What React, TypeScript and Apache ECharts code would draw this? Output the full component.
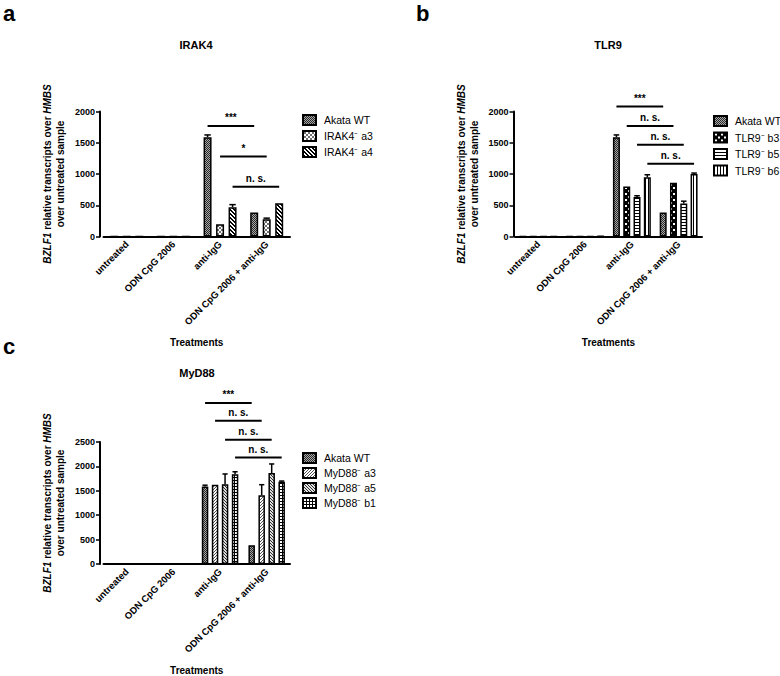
import React, { useEffect, useRef } from "react";
import * as echarts from "echarts";

const FONT = "'Liberation Sans', Arial, Helvetica, sans-serif";

const categories = ["untreated", "ODN CpG 2006", "anti-IgG", "ODN CpG 2006 + anti-IgG"];

// Panel a: IRAK4
const irak4Names = ["Akata WT", "IRAK4⁻ a3", "IRAK4⁻ a4"];
const irak4WT = [1, 1, 1590, 384];
const irak4WTErr = [0, 0, 35, 0];
const irak4A3 = [1, 1, 198, 278];
const irak4A3Err = [0, 0, 0, 16];
const irak4A4 = [1, 1, 470, 534];
const irak4A4Err = [0, 0, 40, 0];
const irak4Sig = [
  [2, 0, 3, 0, 1770],
  [2, 1, 3, 1, 1280],
  [2, 2, 3, 2, 795],
];
const irak4SigLabels = ["***", "*", "n. s."];

// Panel b: TLR9
const tlr9Names = ["Akata WT", "TLR9⁻ b3", "TLR9⁻ b5", "TLR9⁻ b6"];
const tlr9WT = [1, 2, 1590, 384];
const tlr9WTErr = [0, 0, 35, 0];
const tlr9B3 = [1, 2, 800, 862];
const tlr9B3Err = [0, 0, 0, 0];
const tlr9B5 = [1, 4, 632, 530];
const tlr9B5Err = [0, 0, 20, 35];
const tlr9B6 = [1, 5, 948, 1000];
const tlr9B6Err = [0, 0, 40, 15];
const tlr9Sig = [
  [2, 0, 3, 0, 2080],
  [2, 1, 3, 1, 1770],
  [2, 2, 3, 2, 1467],
  [2, 3, 3, 3, 1163],
];
const tlr9SigLabels = ["***", "n. s.", "n. s.", "n. s."];

// Panel c: MyD88
const myd88Names = ["Akata WT", "MyD88⁻ a3", "MyD88⁻ a5", "MyD88⁻ b1"];
const myd88WT = [1, 1, 1590, 385];
const myd88WTErr = [0, 0, 25, 0];
const myd88A3 = [1, 1, 1622, 1410];
const myd88A3Err = [0, 0, 0, 215];
const myd88A5 = [1, 1, 1635, 1865];
const myd88A5Err = [0, 0, 210, 185];
const myd88B1 = [1, 1, 1840, 1685];
const myd88B1Err = [0, 0, 50, 15];
const myd88Sig = [
  [2, 0, 3, 0, 3300],
  [2, 1, 3, 1, 2933],
  [2, 2, 3, 2, 2547],
  [2, 3, 3, 3, 2180],
];
const myd88SigLabels = ["***", "n. s.", "n. s.", "n. s."];

const yTicksA = [0, 2000, 500];
const yTicksC = [0, 2500, 500];

function makePattern(size: number, draw: (ctx: CanvasRenderingContext2D) => void) {
  const c = document.createElement("canvas");
  c.width = size;
  c.height = size;
  const ctx = c.getContext("2d")!;
  draw(ctx);
  return { image: c.toDataURL(), repeat: "repeat", imageWidth: size, imageHeight: size } as any;
}

function pix(ctx: CanvasRenderingContext2D, size: number, bg: string, fg: string, test: (x: number, y: number) => boolean) {
  ctx.fillStyle = bg;
  ctx.fillRect(0, 0, size, size);
  ctx.fillStyle = fg;
  for (let x = 0; x < size; x++) for (let y = 0; y < size; y++) if (test(x, y)) ctx.fillRect(x, y, 1, 1);
}

export default function App() {
  const ref = useRef<HTMLDivElement>(null);
  useEffect(() => {
    document.body.style.margin = "0";
    const chart = echarts.init(ref.current!, null, { renderer: "svg" });

    const P = {
      wt: makePattern(2, (c) => pix(c, 2, "#a8a8a8", "#282828", (x, y) => (x + y) % 2 === 0)),
      irA3: makePattern(4, (c) => pix(c, 4, "#ffffff", "#707070", (x, y) => x === y || x + y === 3)),
      irA4: makePattern(4, (c) => pix(c, 4, "#ffffff", "#000000", (x, y) => ((x - y + 8) % 4) < 2)),
      tB3: makePattern(6, (c) => pix(c, 6, "#000000", "#ffffff", (x, y) => (x >= 1 && x <= 2 && y >= 1 && y <= 2) || (x >= 4 && x <= 5 && y >= 4 && y <= 5))),
      tB5: makePattern(3, (c) => pix(c, 3, "#ffffff", "#000000", (x, y) => y === 0)),
      tB6: makePattern(3, (c) => pix(c, 3, "#ffffff", "#000000", (x, y) => x === 0)),
      mA3: makePattern(3, (c) => pix(c, 3, "#ffffff", "#505050", (x, y) => (x + y) % 3 === 0)),
      mA5: makePattern(3, (c) => pix(c, 3, "#e0e0e0", "#303030", (x, y) => ((x - y + 6) % 3) === 0)),
      mB1: makePattern(3, (c) => pix(c, 3, "#ffffff", "#000000", (x, y) => x === 0 || y === 0)),
    };

    const panels = [
      {
        grid: { left: 103.5, top: 111.5, width: 186.5, height: 125 },
        yOffset: 3.5, ticks: yTicksA, bw: 8, gap: 4.5,
        names: irak4Names,
        values: [irak4WT, irak4A3, irak4A4],
        errs: [irak4WTErr, irak4A3Err, irak4A4Err],
        pats: [P.wt, P.irA3, P.irA4],
        sig: irak4Sig, sigLabels: irak4SigLabels,
        legend: { left: 302, top: 114, itemGap: 4 },
      },
      {
        grid: { left: 515, top: 111.5, width: 187, height: 125 },
        yOffset: 1.5, ticks: yTicksA, bw: 7, gap: 3.3,
        names: tlr9Names,
        values: [tlr9WT, tlr9B3, tlr9B5, tlr9B6],
        errs: [tlr9WTErr, tlr9B3Err, tlr9B5Err, tlr9B6Err],
        pats: [P.wt, P.tB3, P.tB5, P.tB6],
        sig: tlr9Sig, sigLabels: tlr9SigLabels,
        legend: { left: 713, top: 115, itemGap: 4.5 },
      },
      {
        grid: { left: 103.5, top: 442, width: 186.5, height: 125 },
        yOffset: 3.5, ticks: yTicksC, bw: 6.5, gap: 3.5,
        names: myd88Names,
        values: [myd88WT, myd88A3, myd88A5, myd88B1],
        errs: [myd88WTErr, myd88A3Err, myd88A5Err, myd88B1Err],
        pats: [P.wt, P.mA3, P.mA5, P.mB1],
        sig: myd88Sig, sigLabels: myd88SigLabels,
        legend: { left: 302, top: 452, itemGap: 3 },
      },
    ];

    const grids: any[] = [];
    const xAxes: any[] = [];
    const yAxes: any[] = [];
    const series: any[] = [];
    const legends: any[] = [];

    panels.forEach((p, pi) => {
      const n = p.values.length;
      const off = (i: number) => -((n * p.bw + (n - 1) * p.gap) / 2) + i * (p.bw + p.gap) + p.bw / 2;
      grids.push({ ...p.grid, containLabel: false });
      xAxes.push({
        type: "category",
        gridIndex: pi,
        data: categories,
        name: "Treatments",
        nameLocation: "middle",
        nameGap: 101,
        nameTextStyle: { fontFamily: FONT, fontWeight: "bold", fontSize: 10, color: "#000" },
        axisLine: { lineStyle: { color: "#000", width: 2 } },
        axisTick: { alignWithLabel: true, length: 4, lineStyle: { color: "#000", width: 1.5 } },
        axisLabel: { rotate: 45, margin: 6, fontFamily: FONT, fontWeight: "bold", fontSize: 9.5, color: "#000", interval: 0 },
      });
      yAxes.push({
        type: "value",
        gridIndex: pi,
        min: p.ticks[0],
        max: p.ticks[1],
        interval: p.ticks[2],
        offset: p.yOffset,
        splitLine: { show: false },
        axisLine: { show: true, lineStyle: { color: "#000", width: 2 } },
        axisTick: { show: true, length: 4, lineStyle: { color: "#000", width: 1.5 } },
        axisLabel: { margin: 5, fontFamily: FONT, fontWeight: "bold", fontSize: 9, color: "#000", formatter: (v: number) => String(v) },
        name: "{i|BZLF1}{n| relative transcripts over }{i|HMBS}\n{n|over untreated sample}",
        nameLocation: "middle",
        nameRotate: 90,
        nameGap: 33,
        nameTextStyle: {
          fontFamily: FONT, fontWeight: "bold", fontSize: 10, color: "#000", lineHeight: 13, align: "center",
          rich: {
            i: { fontFamily: FONT, fontWeight: "bold", fontStyle: "italic", fontSize: 10, color: "#000", lineHeight: 13, align: "center" },
            n: { fontFamily: FONT, fontWeight: "bold", fontSize: 10, color: "#000", lineHeight: 13, align: "center" },
          },
        },
      });
      p.values.forEach((vals, si) => {
        series.push({
          type: "bar",
          name: p.names[si],
          xAxisIndex: pi,
          yAxisIndex: pi,
          data: vals,
          barWidth: p.bw,
          barGap: `${(p.gap / p.bw) * 100}%`,
          itemStyle: { color: p.pats[si], borderColor: "#000", borderWidth: 1.5 },
          emphasis: { disabled: true },
        });
      });
      const errData: number[][] = [];
      p.errs.forEach((errArr, si) => {
        errArr.forEach((e, ci) => {
          if (e > 0) errData.push([ci, p.values[si][ci], e, si]);
        });
      });
      series.push({
        type: "custom",
        name: "err" + pi,
        xAxisIndex: pi,
        yAxisIndex: pi,
        z: 5,
        clip: false,
        encode: { x: 0, y: 1 },
        data: errData,
        renderItem: (params: any, api: any) => {
          const ci = api.value(0), v = api.value(1), e = api.value(2), si = api.value(3);
          const base = api.coord([ci, v]);
          const top = api.coord([ci, v + e]);
          const x = base[0] + off(si);
          const st = { stroke: "#000", lineWidth: 1.5 };
          return {
            type: "group",
            children: [
              { type: "line", shape: { x1: x, y1: base[1], x2: x, y2: top[1] }, style: st },
              { type: "line", shape: { x1: x - p.bw * 0.4, y1: top[1], x2: x + p.bw * 0.4, y2: top[1] }, style: st },
            ],
          };
        },
      });
      series.push({
        type: "custom",
        name: "sig" + pi,
        xAxisIndex: pi,
        yAxisIndex: pi,
        z: 6,
        clip: false,
        encode: { x: 0, y: 4 },
        data: p.sig,
        renderItem: (params: any, api: any) => {
          const c1 = api.value(0), s1 = api.value(1), c2 = api.value(2), s2 = api.value(3), y = api.value(4);
          const p1 = api.coord([c1, y]);
          const p2 = api.coord([c2, y]);
          const x1 = p1[0] + off(s1);
          const x2 = p2[0] + off(s2);
          return {
            type: "group",
            children: [
              { type: "line", shape: { x1, y1: p1[1], x2, y2: p1[1] }, style: { stroke: "#000", lineWidth: 2 } },
              {
                type: "text",
                style: {
                  text: p.sigLabels[params.dataIndex],
                  x: (x1 + x2) / 2,
                  y: p1[1] - 3,
                  align: "center",
                  verticalAlign: "bottom",
                  font: `bold 10px ${FONT}`,
                  fill: "#000",
                },
              },
            ],
          };
        },
      });
      legends.push({
        data: p.names.map((nm) => ({ name: nm, icon: "rect" })),
        orient: "vertical",
        left: p.legend.left,
        top: p.legend.top,
        itemGap: p.legend.itemGap,
        itemWidth: 13,
        itemHeight: 10,
        selectedMode: false,
        padding: 0,
        textStyle: { fontFamily: FONT, fontSize: 10.5, color: "#000", padding: [0, 0, 0, 3] },
      });
    });

    const titleStyle = { fontFamily: FONT, fontWeight: "bold", fontSize: 11, color: "#000" };
    const letterStyle = { fontFamily: FONT, fontWeight: "bold", fontSize: 22, lineHeight: 24, color: "#000" };

    chart.setOption({
      animation: false,
      backgroundColor: "#fff",
      title: [
        { text: "a", left: 3, top: 1, padding: 0, textStyle: letterStyle },
        { text: "b", left: 416, top: 1, padding: 0, textStyle: letterStyle },
        { text: "c", left: 3, top: 334, padding: 0, textStyle: letterStyle },
        { text: "IRAK4", left: 196, top: 39, padding: 0, textAlign: "center", textStyle: titleStyle },
        { text: "TLR9", left: 608, top: 39, padding: 0, textAlign: "center", textStyle: titleStyle },
        { text: "MyD88", left: 197, top: 367, padding: 0, textAlign: "center", textStyle: titleStyle },
      ],
      legend: legends,
      grid: grids,
      xAxis: xAxes,
      yAxis: yAxes,
      series,
    });
    return () => chart.dispose();
  }, []);
  return <div ref={ref} style={{ width: 780, height: 676 }} />;
}
